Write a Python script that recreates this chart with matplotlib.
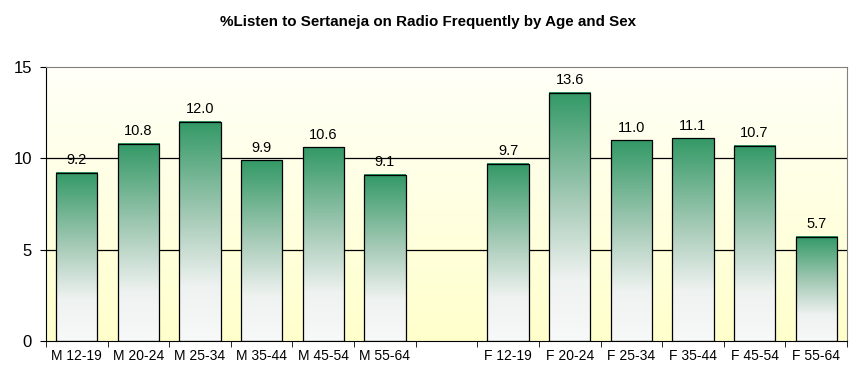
import numpy as np
import matplotlib
matplotlib.use("Agg")
import matplotlib.pyplot as plt
from matplotlib.colors import LinearSegmentedColormap

plt.rcParams['font.family'] = ['Liberation Sans', 'DejaVu Sans']

# data
labels = ["M 12-19", "M 20-24", "M 25-34", "M 35-44", "M 45-54", "M 55-64", "",
          "F 12-19", "F 20-24", "F 25-34", "F 35-44", "F 45-54", "F 55-64"]
values = [9.2, 10.8, 12.0, 9.9, 10.6, 9.1, None,
          9.7, 13.6, 11.0, 11.1, 10.7, 5.7]
title = "%Listen to Sertaneja on Radio Frequently by Age and Sex"

fig = plt.figure(figsize=(8.57, 3.81), dpi=100)
ax = fig.add_axes([46/857, 1 - 341/381, (847 - 46)/857, (341 - 67)/381])

n = len(labels)

# background gradient (white top -> pale yellow bottom)
bg = LinearSegmentedColormap.from_list("bg", ["#FFFFCC", "#FFFFF8"])
ax.imshow(np.linspace(0, 1, 256).reshape(-1, 1), cmap=bg, origin="lower",
          extent=(0, 1, 0, 1), transform=ax.transAxes, aspect="auto", zorder=0)

# gridlines
for y in [5, 10]:
    ax.axhline(y, color="black", lw=0.9, zorder=1)

# bars with green -> white gradient
barcm = LinearSegmentedColormap.from_list(
    "bar", [(0, "#F8F9F9"), (0.25, "#EEF2F0"), (0.55, "#A9CCB9"), (1, "#339966")])
w = 0.67
grad = np.linspace(0, 1, 256).reshape(-1, 1)
for i, v in enumerate(values):
    if v is None:
        continue
    ax.imshow(grad, cmap=barcm, origin="lower", aspect="auto",
              extent=(i - w/2, i + w/2, 0, v), zorder=2)
    ax.bar(i, v, width=w, facecolor="none", edgecolor="black", lw=0.9, zorder=3)
    ax.annotate(f"{v:.1f}", (i, v), xytext=(0, 4), textcoords="offset points",
                ha="center", va="bottom", fontsize=10.5)

ax.set_xlim(-0.5, n - 0.5)
ax.set_ylim(0, 15)

# ticks
ax.set_xticks(range(n))
ax.set_xticklabels(labels, fontsize=10)
ax.tick_params(axis="x", which="major", length=0, pad=6)
ax.set_xticks(np.arange(-0.5, n), minor=True)
ax.tick_params(axis="x", which="minor", length=4, direction="out", color="black")
ax.set_yticks([0, 5, 10, 15])
ax.tick_params(axis="y", length=4, direction="out", labelsize=12, pad=6)

for s in ["left", "bottom"]:
    ax.spines[s].set_color("black")
for s in ["top", "right"]:
    ax.spines[s].set_color("#808080")

fig.text(0.5, 1 - 22/381, title, ha="center", va="center",
         fontsize=10.9, fontweight="bold")

fig.savefig("out.png", dpi=100)
